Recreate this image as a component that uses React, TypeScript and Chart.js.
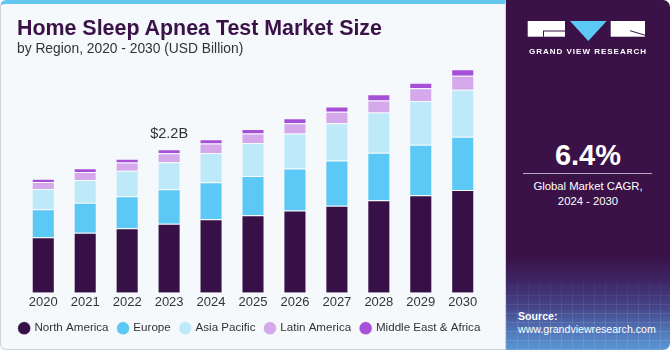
import React, { useEffect, useRef } from "react";
import { Chart, registerables } from "chart.js";

Chart.register(...registerables);

const years = ["2020", "2021", "2022", "2023", "2024", "2025", "2026", "2027", "2028", "2029", "2030"];
const northAmerica = [0.85, 0.92, 0.99, 1.06, 1.126, 1.19, 1.26, 1.336, 1.418, 1.495, 1.576];
const europe = [0.43, 0.46, 0.49, 0.527, 0.568, 0.6, 0.645, 0.691, 0.727, 0.773, 0.814];
const asiaPacific = [0.31, 0.35, 0.39, 0.415, 0.45, 0.507, 0.538, 0.573, 0.62, 0.671, 0.722];
const latinAmerica = [0.107, 0.12, 0.128, 0.138, 0.144, 0.144, 0.154, 0.174, 0.184, 0.195, 0.215];
const middleEastAfrica = [0.052, 0.057, 0.057, 0.061, 0.066, 0.071, 0.077, 0.083, 0.092, 0.086, 0.098];
const seriesNames = ["North America", "Europe", "Asia Pacific", "Latin America", "Middle East & Africa"];
const seriesColors = ["#371047", "#5bc8f5", "#bee9f9", "#d5a7eb", "#a64fd7"];
const annotationIndex = 3;
const annotationText = "$2.2B";

const FONT = "'Liberation Sans', Arial, sans-serif";

const annotationPlugin = {
  id: "annot",
  afterDatasetsDraw(chart: any) {
    const metas = chart.getSortedVisibleDatasetMetas();
    const top = metas[metas.length - 1].data[annotationIndex];
    const ctx = chart.ctx;
    ctx.save();
    ctx.font = `14.5px ${FONT}`;
    ctx.fillStyle = "#333333";
    ctx.textAlign = "center";
    ctx.textBaseline = "alphabetic";
    ctx.fillText(annotationText, top.x, top.y - 11.5);
    ctx.restore();
  },
};

export default function App() {
  const canvasRef = useRef<HTMLCanvasElement>(null);

  useEffect(() => {
    const data = [northAmerica, europe, asiaPacific, latinAmerica, middleEastAfrica];
    const hiddenAxis = (w: number, pos: string) => ({
      position: pos,
      display: true,
      ticks: { display: false },
      grid: { display: false, drawTicks: false },
      border: { display: false },
      afterFit: (s: any) => {
        s.width = w;
      },
    });
    const chart = new Chart(canvasRef.current as HTMLCanvasElement, {
      type: "bar",
      data: {
        labels: years,
        datasets: data.map((d, i) => ({
          label: seriesNames[i],
          data: d,
          backgroundColor: seriesColors[i],
          borderColor: "rgba(255,255,255,0.25)",
          borderWidth: 1,
          barPercentage: 0.55,
          categoryPercentage: 1,
        })),
      },
      options: {
        animation: false,
        responsive: false,
        maintainAspectRatio: false,
        layout: { padding: { top: 57.9, left: 0, right: 0, bottom: 6 } },
        font: { family: FONT },
        scales: {
          x: {
            stacked: true,
            grid: { display: false, drawTicks: false },
            border: { display: false },
            ticks: { color: "#333333", font: { size: 13, family: FONT }, padding: 2 },
          },
          y: {
            ...hiddenAxis(22.3, "left"),
            stacked: true,
            min: 0,
            max: 3.6,
          },
          y2: {
            ...hiddenAxis(16.3, "right"),
            min: 0,
            max: 1,
          },
        },
        plugins: {
          legend: {
            position: "bottom",
            labels: {
              usePointStyle: true,
              pointStyle: "circle",
              boxWidth: 9,
              boxHeight: 9,
              padding: 10,
              color: "#333333",
              font: { size: 11.6, family: FONT },
            },
          },
          tooltip: { enabled: false },
        },
      },
      plugins: [annotationPlugin],
    } as any);
    return () => chart.destroy();
  }, []);

  return (
    <div style={{ position: "fixed", left: 0, top: 0, width: 670, height: 350, background: "#ffffff", overflow: "hidden", fontFamily: FONT }}>
      <div
        style={{
          position: "absolute",
          left: 0,
          top: 0,
          width: 506,
          height: 350,
          boxSizing: "border-box",
          background: "#f5f9fc",
          border: "1px solid #cfd3d6",
          borderTop: "4px solid #62c6ee",
          borderRadius: "6px 0 0 6px",
        }}
      />
      <canvas ref={canvasRef} width={500} height={350} style={{ position: "absolute", left: 0, top: 0, width: 500, height: 350 }} />
      <div style={{ position: "absolute", left: 17, top: 17.6, fontSize: 21.4, lineHeight: "21.4px", fontWeight: 700, color: "#3a1248", whiteSpace: "nowrap" }}>
        Home Sleep Apnea Test Market Size
      </div>
      <div style={{ position: "absolute", left: 17, top: 42.4, fontSize: 13.8, lineHeight: "14px", color: "#333333", whiteSpace: "nowrap" }}>
        by Region, 2020 - 2030 (USD Billion)
      </div>

      <div
        style={{
          position: "absolute",
          left: 506,
          top: 0,
          width: 164,
          height: 350,
          borderRadius: "0 7px 7px 0",
          background:
            "linear-gradient(to bottom, #3a1248 0%, #3a1248 73%, #3d2462 80%, #46468a 88%, #5179bb 95%, #5a96d4 100%)",
          overflow: "hidden",
        }}
      >
        <div
          style={{
            position: "absolute",
            left: 0,
            right: 0,
            bottom: 0,
            height: 80,
            backgroundImage:
              "repeating-linear-gradient(90deg, rgba(255,255,255,0.10) 0px, rgba(255,255,255,0.10) 1px, transparent 1px, transparent 11px), repeating-linear-gradient(0deg, rgba(255,255,255,0.10) 0px, rgba(255,255,255,0.10) 1px, transparent 1px, transparent 9px)",
            WebkitMaskImage: "linear-gradient(to bottom, transparent, black 60%)",
            maskImage: "linear-gradient(to bottom, transparent, black 60%)",
          }}
        />
        <svg width={164} height={60} style={{ position: "absolute", left: 0, top: 0 }}>
          <rect x={21.7} y={21} width={37.3} height={15.7} fill="#ffffff" />
          <path d="M37 31 H59 M37.5 31 V36.7" stroke="#3a1248" strokeWidth={1} fill="none" />
          <polygon points="64,21 100.7,21 82.3,41" fill="#5bc8f5" />
          <rect x={104.7} y={21} width={34.3} height={15.7} fill="#ffffff" />
          <path d="M124 30.7 L139 35.2" stroke="#3a1248" strokeWidth={1} fill="none" />
        </svg>
        <div style={{ position: "absolute", left: 0, width: 164, top: 47.5, textAlign: "center", fontSize: 8, lineHeight: "8px", fontWeight: 700, letterSpacing: 1, color: "#ffffff", whiteSpace: "nowrap" }}>
          GRAND VIEW RESEARCH
        </div>
        <div style={{ position: "absolute", left: 0, width: 164, top: 140.5, textAlign: "center", fontSize: 29, lineHeight: "29px", fontWeight: 700, color: "#ffffff" }}>
          6.4%
        </div>
        <div style={{ position: "absolute", left: 16.7, width: 129.6, top: 173, height: 1, background: "rgba(255,255,255,0.65)" }} />
        <div style={{ position: "absolute", left: 0, width: 164, top: 178.5, textAlign: "center", fontSize: 11.3, lineHeight: "15px", color: "#ffffff" }}>
          Global Market CAGR,
          <br />
          2024 - 2030
        </div>
        <div style={{ position: "absolute", left: 12, top: 310, fontSize: 10.6, lineHeight: "13.4px", color: "#ffffff", whiteSpace: "nowrap" }}>
          <b>Source:</b>
          <br />
          www.grandviewresearch.com
        </div>
      </div>
    </div>
  );
}
